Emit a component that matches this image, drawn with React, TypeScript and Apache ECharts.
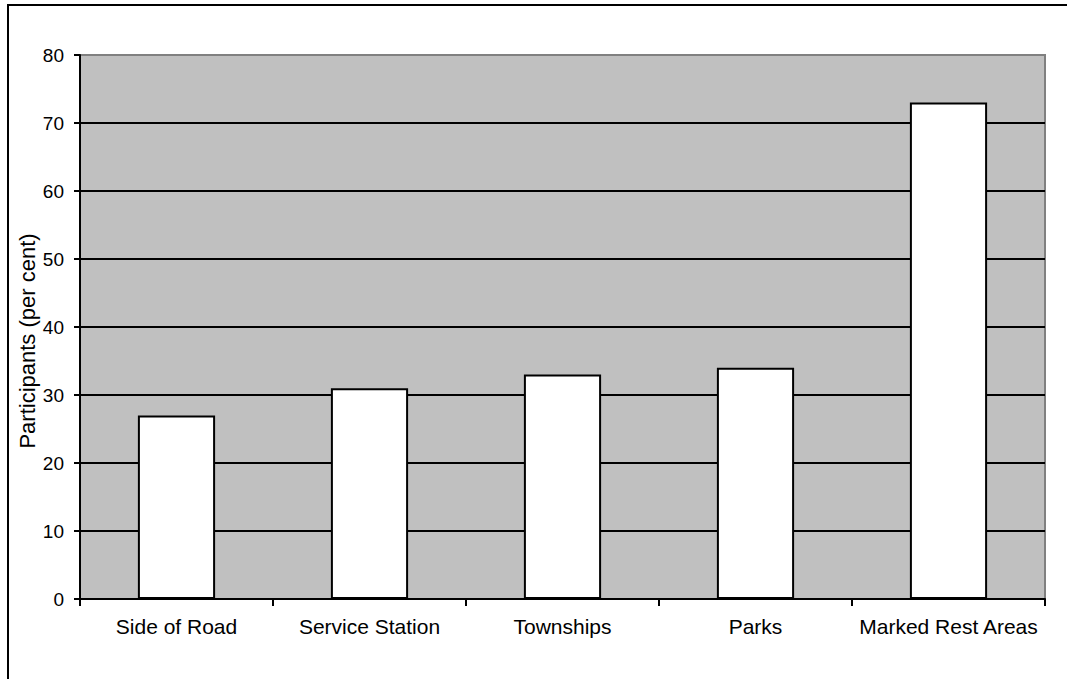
import React, { useEffect, useRef } from "react";
import * as echarts from "echarts";

const categories = ["Side of Road", "Service Station", "Townships", "Parks", "Marked Rest Areas"];
const values = [27, 31, 33, 34, 73];
const yAxisTitle = "Participants (per cent)";

export default function App() {
  const ref = useRef<HTMLDivElement>(null);
  useEffect(() => {
    if (!ref.current) return;
    const chart = echarts.init(ref.current, null, { renderer: "svg" });
    const font = "Liberation Sans, Arial, sans-serif";
    chart.setOption({
      animation: false,
      backgroundColor: "#ffffff",
      grid: {
        left: 80,
        top: 55,
        right: 22,
        bottom: 80,
        show: true,
        backgroundColor: "#c0c0c0",
        borderColor: "#808080",
        borderWidth: 2,
      },
      graphic: [
        {
          type: "rect",
          shape: { x: 8, y: 5, width: 1100, height: 720 },
          style: { fill: "none", stroke: "#000", lineWidth: 2 },
          z: 100,
          silent: true,
        },
        {
          type: "text",
          x: 27,
          y: 341,
          rotation: Math.PI / 2,
          style: {
            text: yAxisTitle,
            fontFamily: font,
            fontSize: 22,
            fill: "#000",
            align: "center",
            verticalAlign: "middle",
          },
        },
      ],
      xAxis: {
        type: "category",
        data: categories,
        axisLine: { lineStyle: { color: "#000", width: 2 } },
        axisTick: { show: true, interval: 0, alignWithLabel: false, length: 7, lineStyle: { color: "#000", width: 2 } },
        axisLabel: { color: "#000", fontFamily: font, fontSize: 21, margin: 17, interval: 0 },
        splitLine: { show: false },
      },
      yAxis: {
        type: "value",
        min: 0,
        max: 80,
        interval: 10,
        axisLine: { show: true, lineStyle: { color: "#000", width: 2 } },
        axisTick: { show: true, length: 6, lineStyle: { color: "#000", width: 2 } },
        axisLabel: { color: "#000", fontFamily: font, fontSize: 19, margin: 16 },
        splitLine: { show: true, showMaxLine: false, lineStyle: { color: "#000", width: 2 } },
      },
      series: [
        {
          type: "bar",
          data: values,
          barWidth: "40%",
          itemStyle: { color: "#ffffff", borderColor: "#000", borderWidth: 2 },
        },
      ],
    });
    return () => chart.dispose();
  }, []);
  return (
    <div
      ref={ref}
      style={{ position: "absolute", left: 0, top: 0, width: 1067, height: 679 }}
    />
  );
}
